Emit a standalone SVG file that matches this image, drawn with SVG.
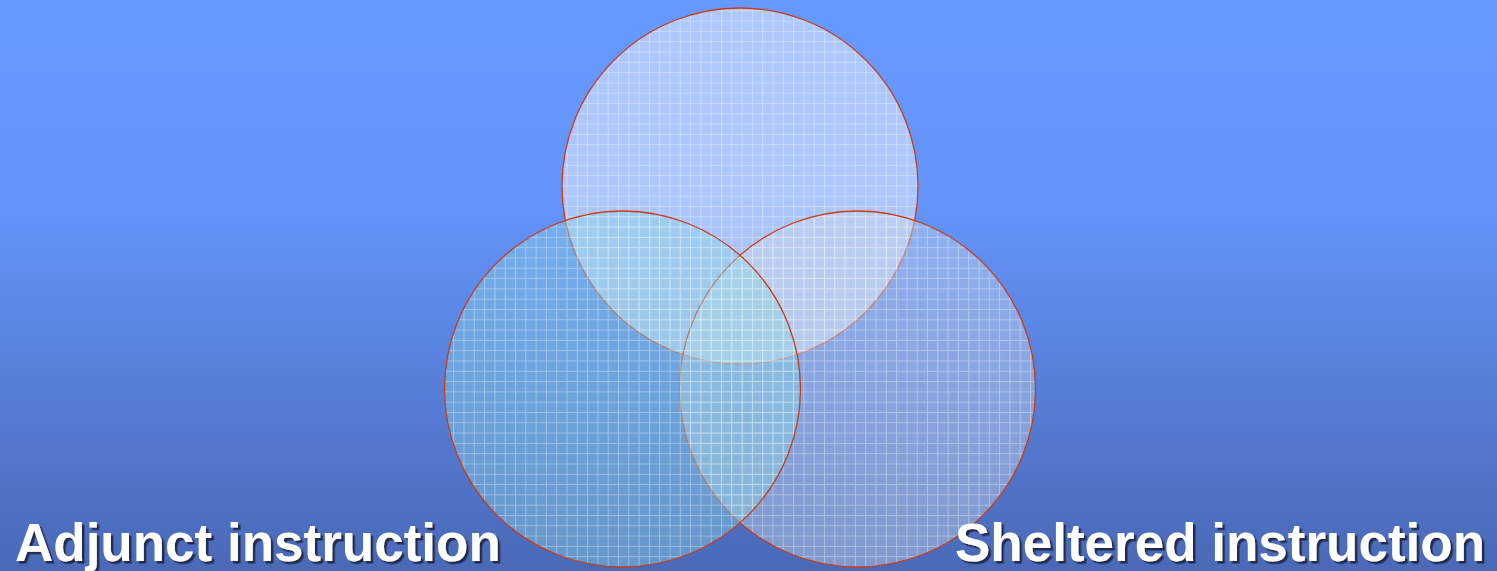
<svg xmlns="http://www.w3.org/2000/svg" width="1497" height="571" viewBox="0 0 1497 571">
  <defs>
    <linearGradient id="bg" x1="0" y1="0" x2="0" y2="1">
      <stop offset="0" stop-color="#6699FF"/>
      <stop offset="0.35" stop-color="#6494FA"/>
      <stop offset="1" stop-color="#4A69B7"/>
    </linearGradient>
    <pattern id="dots" patternUnits="userSpaceOnUse" width="2" height="2">
      <rect x="0" y="0" width="1" height="1" fill="#ffffff" fill-opacity="0.07"/>
      <rect x="1" y="1" width="1" height="1" fill="#ffffff" fill-opacity="0.07"/>
    </pattern>
    <pattern id="grid" patternUnits="userSpaceOnUse" width="10.3" height="10.3">
      <rect x="0" y="0" width="10.3" height="10.3" fill="url(#dots)"/>
      <path d="M0 0.5H10.3M0.5 0V10.3" stroke="#ffffff" stroke-opacity="0.35" stroke-width="1" fill="none"/>
    </pattern>
    <filter id="shadow" x="-5%" y="-20%" width="110%" height="140%">
      <feDropShadow dx="2.5" dy="2.5" stdDeviation="0.6" flood-color="#1a2340" flood-opacity="0.9"/>
    </filter>
  </defs>
  <style>
    .edge { fill: none; stroke: #CC3A14; stroke-width: 1.3; }
    .grid { fill: url(#grid); }
    .label { font-family: "Liberation Sans", Arial, sans-serif; font-weight: bold; font-size: 53px; fill: #ffffff; filter: url(#shadow); }
  </style>
  <rect x="0" y="0" width="1497" height="571" fill="url(#bg)"/>
  <g id="circle-top">
    <circle cx="740" cy="186" r="178" fill="#ffffff" fill-opacity="0.45"/>
    <circle cx="740" cy="186" r="178" class="grid"/>
    <circle cx="740" cy="186" r="178" class="edge"/>
  </g>
  <g id="circle-right">
    <circle cx="857.5" cy="389" r="178" fill="#C8D7E6" fill-opacity="0.4"/>
    <circle cx="857.5" cy="389" r="178" class="grid"/>
    <circle cx="857.5" cy="389" r="178" class="edge"/>
  </g>
  <g id="circle-left">
    <circle cx="622.5" cy="389" r="178" fill="#82D2E1" fill-opacity="0.4"/>
    <circle cx="622.5" cy="389" r="178" class="grid"/>
    <circle cx="622.5" cy="389" r="178" class="edge"/>
  </g>
  <g id="connectors"></g>
  <g id="label-adjunct">
    <text class="label" x="15" y="561">Adjunct instruction</text>
  </g>
  <g id="label-sheltered">
    <text class="label" x="955" y="561">Sheltered instruction</text>
  </g>
</svg>
